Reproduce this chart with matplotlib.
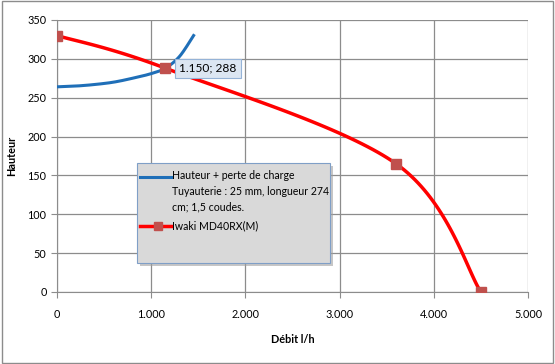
import numpy as np
import matplotlib
matplotlib.use("Agg")
import matplotlib.pyplot as plt
from matplotlib.ticker import FuncFormatter
from matplotlib.lines import Line2D
from matplotlib.patches import Rectangle

# Data
pump_q = [0, 1150, 3600, 4500]
pump_h = [330, 288, 165, 0]
sys_q = [0, 200, 400, 600, 800, 1000, 1150, 1300, 1450]
sys_h = [264, 265, 267, 270, 275, 281, 288, 303, 330]
x_ticks = [0, 1000, 2000, 3000, 4000, 5000]
y_ticks = [0, 50, 100, 150, 200, 250, 300, 350]
label_pump = "Iwaki MD40RX(M)"
label_sys = "Hauteur + perte de charge\nTuyauterie : 25 mm, longueur 274\ncm; 1,5 coudes."
point_label = "1.150; 288"

W, H = 555, 364


def fx(x):
    return x / W


def fy(y):
    return 1 - y / H


def excel_smooth(xs, ys, n=40):
    p = np.column_stack([xs, ys]).astype(float)
    pts = [p[0]] + list(p) + [p[-1]]
    out = []
    for i in range(1, len(pts) - 2):
        p0, p1, p2, p3 = pts[i - 1], pts[i], pts[i + 1], pts[i + 2]
        c1 = p1 + (p2 - p0) / 6.0
        c2 = p2 - (p3 - p1) / 6.0
        t = np.linspace(0, 1, n)[:, None]
        seg = ((1 - t) ** 3) * p1 + 3 * ((1 - t) ** 2) * t * c1 + 3 * (1 - t) * t ** 2 * c2 + t ** 3 * p2
        out.append(seg)
    out = np.vstack(out)
    return out[:, 0], out[:, 1]


plt.rcParams['font.family'] = ['Lato', 'DejaVu Sans']
fig = plt.figure(figsize=(W / 100, H / 100), dpi=100)
fig.patch.set_facecolor('white')
ax = fig.add_axes([fx(57), fy(292), (528 - 57) / W, (292 - 20) / H])

ax.set_xlim(0, 5000)
ax.set_ylim(0, 350)
ax.set_xticks(x_ticks)
ax.set_yticks(y_ticks)
ax.xaxis.set_major_formatter(FuncFormatter(lambda v, p: f"{int(v):,}".replace(",", ".")))
ax.grid(True, color='#8c8c8c', linewidth=0.9)
ax.set_axisbelow(True)
for s in ['top', 'right']:
    ax.spines[s].set_visible(False)
for s in ['left', 'bottom']:
    ax.spines[s].set_color('#8c8c8c')
ax.tick_params(axis='both', colors='#8c8c8c', labelcolor='black', labelsize=7.8, length=4)
ax.tick_params(axis='x', pad=8)

sx, sy = excel_smooth(sys_q, sys_h)
ax.plot(sx, sy, color='#1f6fb8', linewidth=2.2, zorder=3)
px, py = excel_smooth(pump_q, pump_h)
ax.plot(px, py, color='#ff0000', linewidth=2.5, zorder=4)
ax.plot(pump_q, pump_h, linestyle='none', marker='s', markersize=7,
        markerfacecolor='#c0504d', markeredgecolor='#c0504d', zorder=5)

ax.annotate(point_label, xy=(pump_q[1], pump_h[1]), xytext=(10, 0), textcoords='offset points',
            va='center', ha='left', fontsize=8.6, zorder=6,
            bbox=dict(boxstyle='square,pad=0.35', facecolor='#dce6f2', edgecolor='#95b3d7', linewidth=0.8))

ax.set_xlabel('Débit l/h', fontsize=7.8, fontweight='bold', labelpad=10)
fig.text(fx(12), fy(156), 'Hauteur', rotation=90, fontsize=7.8, fontweight='bold', ha='center', va='center')

# Legend box (manual, Excel style)
lx0, ly0, lx1, ly1 = 137, 163, 330, 263
fig.add_artist(Rectangle((fx(lx0 + 3), fy(ly1 + 3)), (lx1 - lx0) / W, (ly1 - ly0) / H,
                         transform=fig.transFigure, facecolor='#a0a0a0', edgecolor='none', alpha=0.6, zorder=7))
fig.add_artist(Rectangle((fx(lx0), fy(ly1)), (lx1 - lx0) / W, (ly1 - ly0) / H,
                         transform=fig.transFigure, facecolor='#d9d9d9', edgecolor='#7f9fc7', linewidth=0.8, zorder=8))
fig.add_artist(Line2D([fx(140), fx(171)], [fy(177), fy(177)], transform=fig.transFigure,
                      color='#1f6fb8', linewidth=2.2, zorder=9))
fig.text(fx(172), fy(170), label_sys, fontsize=7.6, ha='left', va='top', zorder=9, linespacing=1.55)
fig.add_artist(Line2D([fx(140), fx(171)], [fy(226), fy(226)], transform=fig.transFigure,
                      color='#ff0000', linewidth=2.5, zorder=9))
fig.add_artist(Line2D([fx(158)], [fy(226)], transform=fig.transFigure, linestyle='none', marker='s',
                      markersize=6, markerfacecolor='#c0504d', markeredgecolor='#c0504d', zorder=10))
fig.text(fx(172), fy(226), label_pump, fontsize=7.6, ha='left', va='center', zorder=9)

fig.add_artist(Rectangle((0.003, 0.004), 0.993, 0.992, transform=fig.transFigure,
                         fill=False, edgecolor='#8c8c8c', linewidth=1))
fig.savefig('out.png', dpi=100, facecolor='white')
